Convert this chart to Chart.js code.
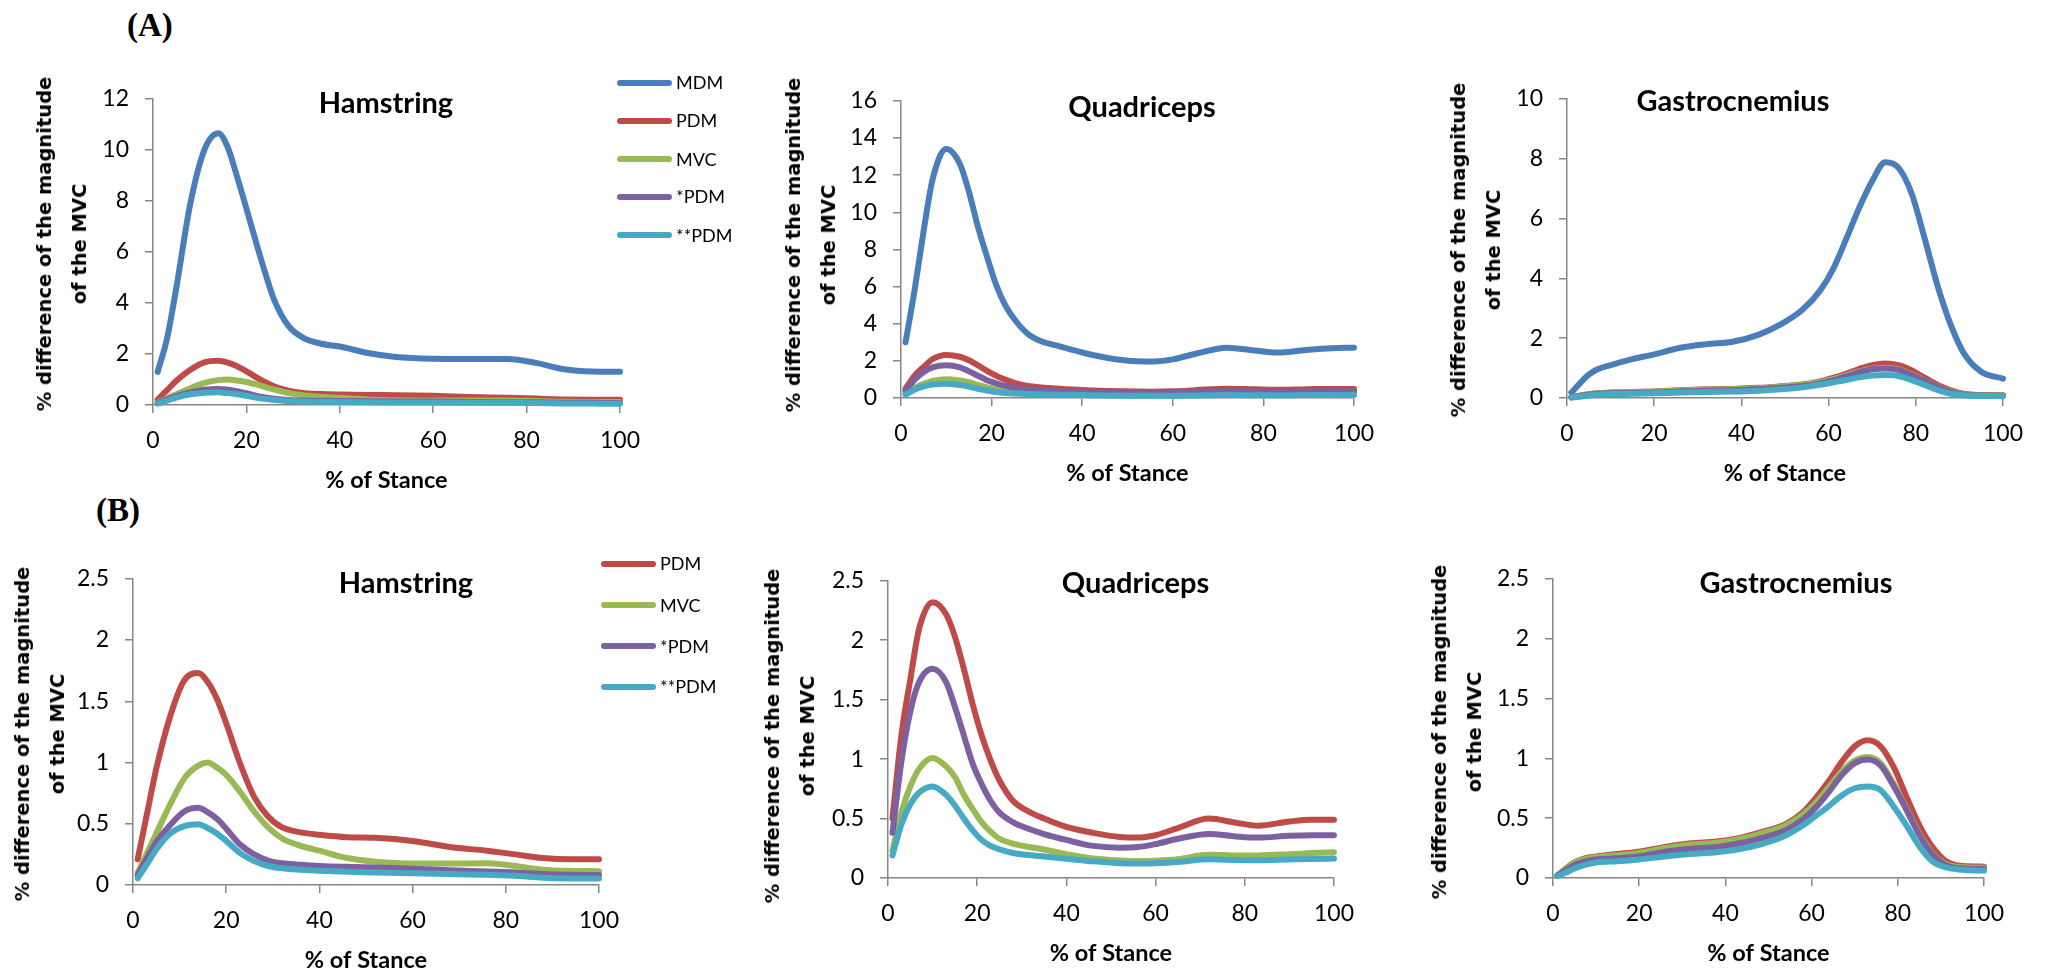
<!DOCTYPE html>
<html>
<head>
<meta charset="utf-8">
<title>EMG magnitude difference across stance</title>
<script src="https://cdn.jsdelivr.net/npm/chart.js@4.4.1/dist/chart.umd.min.js"></script>
<style>
  html, body { margin: 0; padding: 0; background: #fff; }
  body { width: 2049px; height: 973px; position: relative; overflow: hidden; }
  canvas { position: absolute; }
  .txt { position: absolute; white-space: nowrap; color: #000; }
  .tag { font-family: 'Liberation Serif', 'Times New Roman', serif; font-weight: bold; font-size: 33px; line-height: 33px; }
  .ptitle { font-family: Lato, sans-serif; font-weight: bold; font-size: 29px; line-height: 29px; transform: translateX(-50%); }
  .ytitle { font-family: 'DejaVu Sans', sans-serif; font-weight: bold; font-size: 19.5px; line-height: 35px; text-align: center; transform: translate(-50%, -50%) rotate(-90deg); }
  .legline { position: absolute; height: 6px; border-radius: 3px; }
  .legtext { font-family: Lato, sans-serif; font-size: 18px; line-height: 18px; }
</style>
</head>
<body>
<script>
// ---- series names and colours ----
const seriesNames  = ['MDM', 'PDM', 'MVC', '*PDM', '**PDM'];
const seriesColors = ['#4A7EBB', '#BE4B48', '#98B954', '#7D60A0', '#46AAC5'];

// ---- axis tick labels ----
const stanceTicks = [0, 20, 40, 60, 80, 100];
const yTicksHam   = [0, 2, 4, 6, 8, 10, 12];
const yTicksQuad  = [0, 2, 4, 6, 8, 10, 12, 14, 16];
const yTicksGas   = [0, 2, 4, 6, 8, 10];
const yTicksB     = [0, 0.5, 1, 1.5, 2, 2.5];

// ---- Hamstring ----
const hamStance = [1, 3, 5, 8, 11, 14, 16, 18, 20, 23, 26, 29, 32, 36, 40, 46, 52, 60, 68, 76, 82, 88, 94, 100];
const hamMDM    = [1.3, 2.6, 4.6, 7.9, 10.0, 10.65, 10.1, 8.95, 7.7, 5.8, 4.1, 3.1, 2.65, 2.4, 2.29, 2.04, 1.88, 1.81, 1.8, 1.8, 1.65, 1.4, 1.31, 1.3];
const hamPDM    = [0.21, 0.58, 0.95, 1.38, 1.67, 1.73, 1.66, 1.52, 1.32, 0.99, 0.72, 0.56, 0.47, 0.43, 0.41, 0.39, 0.385, 0.36, 0.31, 0.28, 0.25, 0.22, 0.21, 0.21];
const hamMVC    = [0.1, 0.26, 0.42, 0.66, 0.87, 0.975, 1.0, 0.96, 0.9, 0.76, 0.6, 0.47, 0.38, 0.32, 0.28, 0.22, 0.19, 0.175, 0.175, 0.178, 0.155, 0.125, 0.115, 0.113];
const hamPDM1   = [0.08, 0.22, 0.35, 0.49, 0.6, 0.63, 0.595, 0.54, 0.46, 0.33, 0.25, 0.2, 0.177, 0.165, 0.156, 0.148, 0.142, 0.133, 0.12, 0.11, 0.103, 0.09, 0.084, 0.082];
const hamPDM2   = [0.055, 0.17, 0.29, 0.42, 0.48, 0.495, 0.465, 0.42, 0.36, 0.26, 0.195, 0.155, 0.136, 0.124, 0.116, 0.108, 0.102, 0.095, 0.09, 0.084, 0.075, 0.06, 0.054, 0.053];

// ---- Quadriceps ----
const quadStance = [1, 3, 5, 7, 10, 13, 15, 17, 19, 21, 23, 25, 28, 31, 35, 40, 46, 52, 56, 60, 65, 72, 78, 83, 90, 95, 100];
const quadMDM    = [3.0, 5.8, 9.0, 11.8, 13.4, 12.6, 11.1, 9.2, 7.6, 6.1, 5.0, 4.25, 3.45, 3.05, 2.78, 2.45, 2.14, 1.98, 1.97, 2.08, 2.38, 2.71, 2.56, 2.45, 2.6, 2.68, 2.71];
const quadPDM    = [0.5, 1.2, 1.67, 2.1, 2.32, 2.22, 2.03, 1.76, 1.46, 1.2, 0.99, 0.82, 0.65, 0.57, 0.5, 0.43, 0.38, 0.345, 0.34, 0.36, 0.42, 0.5, 0.465, 0.44, 0.475, 0.49, 0.49];
const quadMVC    = [0.23, 0.55, 0.77, 0.92, 1.01, 0.94, 0.85, 0.7, 0.58, 0.47, 0.39, 0.33, 0.29, 0.265, 0.24, 0.2, 0.165, 0.148, 0.143, 0.146, 0.158, 0.195, 0.19, 0.19, 0.2, 0.21, 0.217];
const quadPDM1   = [0.38, 0.98, 1.4, 1.65, 1.76, 1.65, 1.44, 1.2, 0.96, 0.79, 0.65, 0.55, 0.47, 0.42, 0.37, 0.32, 0.27, 0.255, 0.26, 0.285, 0.33, 0.37, 0.35, 0.34, 0.355, 0.36, 0.36];
const quadPDM2   = [0.19, 0.45, 0.62, 0.72, 0.77, 0.7, 0.61, 0.5, 0.4, 0.32, 0.27, 0.24, 0.21, 0.195, 0.18, 0.162, 0.14, 0.125, 0.122, 0.125, 0.135, 0.157, 0.152, 0.15, 0.156, 0.16, 0.163];

// ---- Gastrocnemius ----
const gasStance = [1, 3, 5, 7, 10, 15, 20, 26, 32, 38, 44, 49, 54, 58, 61, 64, 67, 70, 73, 76, 79, 82, 85, 88, 91, 95, 100];
const gasMDM    = [0.18, 0.5, 0.78, 0.96, 1.1, 1.3, 1.46, 1.68, 1.8, 1.88, 2.12, 2.46, 2.95, 3.58, 4.3, 5.3, 6.35, 7.25, 7.88, 7.7, 6.85, 5.35, 3.75, 2.45, 1.5, 0.88, 0.65];
const gasPDM    = [0.02, 0.08, 0.13, 0.16, 0.18, 0.2, 0.22, 0.26, 0.29, 0.305, 0.34, 0.39, 0.45, 0.55, 0.67, 0.81, 0.97, 1.1, 1.15, 1.1, 0.93, 0.68, 0.44, 0.26, 0.145, 0.1, 0.095];
const gasMVC    = [0.02, 0.08, 0.13, 0.155, 0.175, 0.19, 0.21, 0.25, 0.28, 0.295, 0.33, 0.38, 0.44, 0.53, 0.63, 0.76, 0.89, 0.98, 1.01, 0.96, 0.79, 0.58, 0.37, 0.21, 0.12, 0.09, 0.085];
const gasPDM1   = [0.02, 0.065, 0.11, 0.135, 0.155, 0.165, 0.18, 0.22, 0.245, 0.26, 0.295, 0.34, 0.4, 0.49, 0.59, 0.72, 0.86, 0.96, 0.99, 0.94, 0.77, 0.57, 0.36, 0.2, 0.11, 0.08, 0.075];
const gasPDM2   = [0.015, 0.045, 0.08, 0.105, 0.13, 0.14, 0.155, 0.18, 0.2, 0.215, 0.245, 0.29, 0.355, 0.44, 0.52, 0.6, 0.69, 0.75, 0.765, 0.735, 0.6, 0.44, 0.265, 0.14, 0.09, 0.068, 0.062];

const yTitleLines = ['% difference of the magnitude', 'of the MVC'];
const xTitleText = '% of Stance';

// ---- styling ----
const AXIS_GREY = '#868686';
const TICK_FONT = { family: 'Lato', size: 23 };
const XTITLE_FONT = { family: 'Lato', size: 23.5, weight: 'bold' };

function addText(cls, text, left, top) {
  const d = document.createElement('div');
  d.className = 'txt ' + cls;
  d.style.left = left + 'px';
  d.style.top = top + 'px';
  if (Array.isArray(text)) {
    d.innerHTML = text.map(t => t.replace(/&/g, '&amp;').replace(/</g, '&lt;')).join('<br>');
  } else {
    d.textContent = text;
  }
  document.body.appendChild(d);
  return d;
}

function buildPanel(p) {
  const padTop = 20, padRight = 30, xAxisH = 94;
  const L = p.area.left - p.yW;
  const T = p.area.top - padTop;
  const W = p.area.right + padRight - L;
  const H = p.area.bottom + xAxisH - T;

  const cv = document.createElement('canvas');
  cv.width = W; cv.height = H;
  cv.style.left = L + 'px'; cv.style.top = T + 'px';
  cv.style.width = W + 'px'; cv.style.height = H + 'px';
  document.body.appendChild(cv);

  const n = p.series.length;
  const datasets = p.series.map((s, i) => ({
    label: s.name,
    data: p.stance.map((x, k) => ({ x: x, y: s.values[k] })),
    borderColor: s.color,
    backgroundColor: s.color,
    borderWidth: 6,
    pointRadius: 0,
    pointHoverRadius: 0,
    fill: false,
    cubicInterpolationMode: 'monotone',
    borderCapStyle: 'round',
    borderJoinStyle: 'round',
    clip: false,
    order: n - i
  }));

  const chart = new Chart(cv, {
    type: 'line',
    data: { datasets: datasets },
    options: {
      responsive: false,
      maintainAspectRatio: false,
      animation: false,
      devicePixelRatio: 1,
      events: [],
      layout: { padding: { top: padTop, right: padRight, left: 0, bottom: 0 } },
      plugins: { legend: { display: false }, tooltip: { enabled: false }, title: { display: false } },
      scales: {
        x: {
          type: 'linear',
          min: 0, max: 100,
          afterBuildTicks: s => { s.ticks = stanceTicks.map(v => ({ value: v })); },
          afterFit: s => { s.height = xAxisH; },
          ticks: { font: TICK_FONT, color: '#000', padding: 14, maxRotation: 0, callback: v => String(v) },
          grid: { drawOnChartArea: false, drawTicks: true, tickLength: 8, color: AXIS_GREY, lineWidth: 1.5 },
          border: { display: true, color: AXIS_GREY, width: 1.5 },
          title: { display: true, text: xTitleText, font: XTITLE_FONT, color: '#000', padding: { top: 4, bottom: 4 } }
        },
        y: {
          type: 'linear',
          min: 0, max: p.yTicks[p.yTicks.length - 1],
          afterBuildTicks: s => { s.ticks = p.yTicks.map(v => ({ value: v })); },
          afterFit: s => { s.width = p.yW; },
          ticks: { font: TICK_FONT, color: '#000', padding: 16, callback: v => String(v) },
          grid: { drawOnChartArea: false, drawTicks: true, tickLength: 8, color: AXIS_GREY, lineWidth: 1.5 },
          border: { display: true, color: AXIS_GREY, width: 1.5 },
          title: { display: false }
        }
      }
    }
  });

  // panel title inside the plot
  addText('ptitle', p.title, p.titlePos[0], p.titlePos[1]);
  // rotated two-line y-axis title
  addText('ytitle', yTitleLines, p.yTitlePos[0], p.yTitlePos[1]);

  // legend built from the chart's own datasets
  if (p.legend) {
    chart.data.datasets.forEach((ds, i) => {
      const c = p.legend.centers[i];
      const ln = document.createElement('div');
      ln.className = 'legline';
      ln.style.left = p.legend.lineLeft + 'px';
      ln.style.top = (c - 3) + 'px';
      ln.style.width = p.legend.lineWidth + 'px';
      ln.style.background = ds.borderColor;
      document.body.appendChild(ln);
      addText('legtext', ds.label, p.legend.textLeft, c - 9.5);
    });
  }
  return chart;
}

function makeSeries(valueLists, startIndex) {
  return valueLists.map((vals, i) => ({
    name: seriesNames[startIndex + i],
    color: seriesColors[startIndex + i],
    values: vals
  }));
}

function drawAll() {
  addText('tag', '(A)', 127, 8.5);
  addText('tag', '(B)', 96, 493.5);

  // Row A: all five conditions
  buildPanel({
    title: 'Hamstring', titlePos: [386, 87.4], yTitlePos: [61.75, 244],
    area: { left: 153, top: 89, right: 624, bottom: 405 }, yW: 130,
    yTicks: yTicksHam, stance: hamStance,
    series: makeSeries([hamMDM, hamPDM, hamMVC, hamPDM1, hamPDM2], 0),
    legend: { lineLeft: 617, lineWidth: 55, textLeft: 676, centers: [82.5, 120.8, 159, 196.8, 235] }
  });
  buildPanel({
    title: 'Quadriceps', titlePos: [1142, 91.1], yTitlePos: [810.75, 245],
    area: { left: 901, top: 91, right: 1358, bottom: 398 }, yW: 129,
    yTicks: yTicksQuad, stance: quadStance,
    series: makeSeries([quadMDM, quadPDM, quadMVC, quadPDM1, quadPDM2], 0)
  });
  buildPanel({
    title: 'Gastrocnemius', titlePos: [1733, 85.1], yTitlePos: [1475.75, 250],
    area: { left: 1567, top: 89, right: 2007, bottom: 398 }, yW: 130,
    yTicks: yTicksGas, stance: gasStance,
    series: makeSeries([gasMDM, gasPDM, gasMVC, gasPDM1, gasPDM2], 0)
  });

  // Row B: without MDM
  buildPanel({
    title: 'Hamstring', titlePos: [406, 567.4], yTitlePos: [39.75, 734],
    area: { left: 133, top: 569, right: 603, bottom: 885 }, yW: 132,
    yTicks: yTicksB, stance: hamStance,
    series: makeSeries([hamPDM, hamMVC, hamPDM1, hamPDM2], 1),
    legend: { lineLeft: 601, lineWidth: 55, textLeft: 660, centers: [563.5, 605, 646, 686.8] }
  });
  buildPanel({
    title: 'Quadriceps', titlePos: [1135.5, 567.1], yTitlePos: [790.25, 735.5],
    area: { left: 888, top: 571, right: 1338, bottom: 878 }, yW: 136,
    yTicks: yTicksB, stance: quadStance,
    series: makeSeries([quadPDM, quadMVC, quadPDM1, quadPDM2], 1)
  });
  buildPanel({
    title: 'Gastrocnemius', titlePos: [1796, 567.1], yTitlePos: [1456.75, 732],
    area: { left: 1553, top: 569, right: 1988, bottom: 878 }, yW: 135,
    yTicks: yTicksB, stance: gasStance,
    series: makeSeries([gasPDM, gasMVC, gasPDM1, gasPDM2], 1)
  });
}

const fontLoads = document.fonts ? Promise.all([
  document.fonts.load('23px Lato'),
  document.fonts.load('bold 23px Lato'),
  document.fonts.load('bold 20px "DejaVu Sans"'),
  document.fonts.load('bold 33px "Liberation Serif"')
]) : Promise.resolve();
fontLoads.then(drawAll, drawAll);
</script>
</body>
</html>
